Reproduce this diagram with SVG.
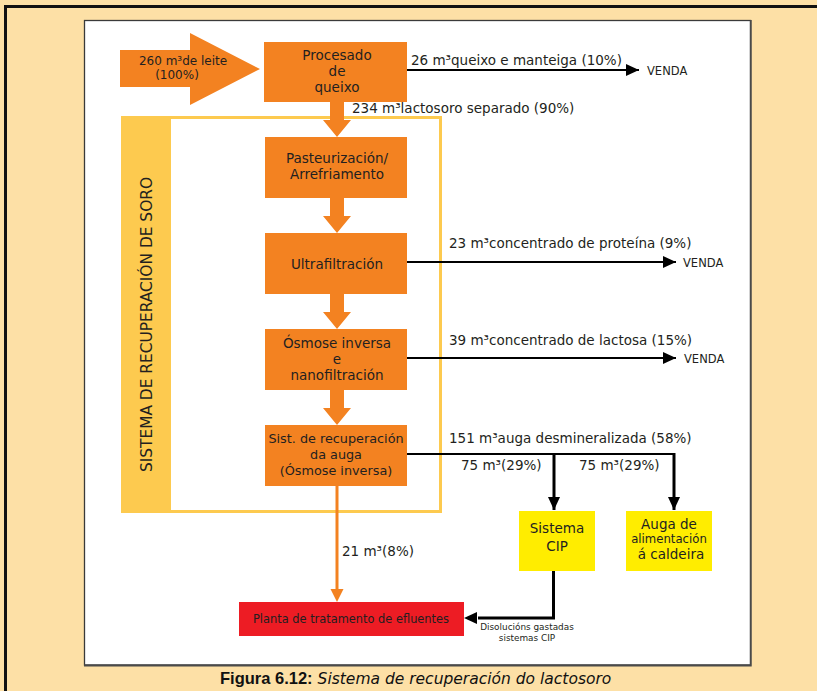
<svg xmlns="http://www.w3.org/2000/svg" width="817" height="691" viewBox="0 0 817 691">
  <style>
    .t { font-family: "DejaVu Sans", "Open Sans", sans-serif; fill: #231f20; }
    .box { fill: #f38221; }
    .ybox { fill: #ffed00; }
    .lbl { font-size: 13.5px; }
    .box-t { font-size: 13.5px; text-anchor: middle; }
    .venda { font-size: 11.5px; }
    .line { stroke: #000; stroke-width: 2; fill: none; }
    .thick { stroke: #000; stroke-width: 3; fill: none; }
    .fat { fill: #f38221; }
  </style>
  <defs>
    <marker id="ah" viewBox="0 0 13 12" refX="13" refY="6" markerWidth="13" markerHeight="12" markerUnits="userSpaceOnUse" orient="auto">
      <path d="M0,0 L13,6 L0,12 Z" fill="#000"/>
    </marker>
    <marker id="ahv" viewBox="0 0 12 13" refX="6" refY="13" markerWidth="12" markerHeight="13" markerUnits="userSpaceOnUse" orient="0">
      <path d="M0,0 L12,0 L6,13 Z" fill="#000"/>
    </marker>
  </defs>

  <!-- page background and frame -->
  <rect x="0" y="0" width="817" height="691" fill="#fde0a6"/>
  <path d="M5.5,691 V6.5 H817" fill="none" stroke="#111" stroke-width="3"/>
  <rect x="84.5" y="20.5" width="666" height="644.5" fill="#fff" stroke="#3a3a3a" stroke-width="1.3"/>
  <path d="M750.8,20 V665.5 H84" fill="none" stroke="#4a4a4a" stroke-width="1.8"/>

  <!-- whey recovery system frame -->
  <g id="recovery-system">
    <rect x="122.5" y="117.5" width="318" height="394" fill="none" stroke="#fdca4f" stroke-width="3"/>
    <rect x="121" y="116" width="50" height="397" fill="#fdca4f"/>
    <text class="t" font-size="15.4" transform="translate(152,324.5) rotate(-90)" text-anchor="middle">SISTEMA DE RECUPERACIÓN DE SORO</text>
  </g>

  <!-- connectors -->
  <g id="connectors">
    <!-- fat orange flow arrows -->
    <path class="fat" d="M330,102 H344 V120 H351 L337,137 L323,120 H330 Z"/>
    <path class="fat" d="M330,198 H344 V216 H351 L337,233 L323,216 H330 Z"/>
    <path class="fat" d="M330,294 H344 V312 H351 L337,329 L323,312 H330 Z"/>
    <path class="fat" d="M330,390 H344 V408 H351 L337,425 L323,408 H330 Z"/>
    <!-- effluent line -->
    <line x1="337" y1="486" x2="337" y2="590" stroke="#f38221" stroke-width="3"/>
    <path d="M330.5,589 H343.5 L337,602 Z" fill="#f38221"/>
    <!-- outputs to sale -->
    <line class="line" x1="407" y1="70" x2="639" y2="70" marker-end="url(#ah)"/>
    <line class="line" x1="407" y1="262" x2="676" y2="262" marker-end="url(#ah)"/>
    <line class="line" x1="407" y1="358" x2="676" y2="358" marker-end="url(#ah)"/>
    <!-- demineralised water split -->
    <polyline class="line" points="407,454 674,454"/>
    <line class="thick" x1="554" y1="453" x2="554" y2="510" marker-end="url(#ahv)"/>
    <line class="thick" x1="674" y1="453" x2="674" y2="510" marker-end="url(#ahv)"/>
    <!-- spent CIP solutions -->
    <polyline class="thick" points="553.5,571 553.5,618 478,618"/>
    <path d="M464,618 L477,612 L477,624 Z" fill="#000"/>
  </g>

  <!-- connector labels -->
  <g id="labels" class="t">
    <text class="lbl" x="411" y="65">26 m³queixo e manteiga (10%)</text>
    <text class="venda" x="647" y="75">VENDA</text>
    <text class="lbl" x="352" y="113">234 m³lactosoro separado (90%)</text>
    <text class="lbl" x="449" y="248">23 m³concentrado de proteína (9%)</text>
    <text class="venda" x="683" y="267">VENDA</text>
    <text class="lbl" x="449" y="345">39 m³concentrado de lactosa (15%)</text>
    <text class="venda" x="684" y="363">VENDA</text>
    <text class="lbl" x="449" y="443">151 m³auga desmineralizada (58%)</text>
    <text class="lbl" x="461" y="470">75 m³(29%)</text>
    <text class="lbl" x="579" y="470">75 m³(29%)</text>
    <text class="lbl" x="342" y="556">21 m³(8%)</text>
    <text font-size="8.9" x="527" y="630" text-anchor="middle">Disolucións gastadas</text>
    <text font-size="8.9" x="527" y="641" text-anchor="middle">sistemas CIP</text>
  </g>

  <!-- nodes -->
  <g id="milk-input">
    <path class="box" d="M120,50 H190 V33 L260,69 L190,105 V87 H120 Z"/>
    <text class="t" font-size="12" x="183" y="65" text-anchor="middle">260 m³de leite</text>
    <text class="t" font-size="12" x="177" y="79" text-anchor="middle">(100%)</text>
  </g>

  <g id="cheese-processing">
    <rect class="box" x="264" y="42" width="143" height="60"/>
    <text class="t box-t" x="337" y="60">Procesado</text>
    <text class="t box-t" x="337" y="76">de</text>
    <text class="t box-t" x="337" y="92">queixo</text>
  </g>

  <g id="pasteurization">
    <rect class="box" x="265" y="137" width="142" height="61"/>
    <text class="t box-t" x="337" y="162.5">Pasteurización/</text>
    <text class="t box-t" x="337" y="178.5">Arrefriamento</text>
  </g>

  <g id="ultrafiltration">
    <rect class="box" x="265" y="233" width="142" height="61"/>
    <text class="t box-t" x="337" y="269">Ultrafiltración</text>
  </g>

  <g id="reverse-osmosis">
    <rect class="box" x="265" y="329" width="142" height="61"/>
    <text class="t box-t" x="337" y="348">Ósmose inversa</text>
    <text class="t box-t" x="337" y="364">e</text>
    <text class="t box-t" x="337" y="380">nanofiltración</text>
  </g>

  <g id="water-recovery">
    <rect class="box" x="265" y="425" width="142" height="61"/>
    <text class="t" font-size="12.8" text-anchor="middle" x="336" y="443">Sist. de recuperación</text>
    <text class="t" font-size="12.8" text-anchor="middle" x="336" y="459">da auga</text>
    <text class="t" font-size="12.8" text-anchor="middle" x="336" y="475">(Ósmose inversa)</text>
  </g>

  <g id="cip-system">
    <rect class="ybox" x="519" y="511" width="76" height="60"/>
    <text class="t box-t" x="557" y="533">Sistema</text>
    <text class="t box-t" x="557" y="551">CIP</text>
  </g>

  <g id="boiler-water">
    <rect class="ybox" x="626" y="511" width="86" height="60"/>
    <text class="t box-t" x="669" y="528.5">Auga de</text>
    <text class="t" font-size="11.7" x="669" y="543" text-anchor="middle">alimentación</text>
    <text class="t box-t" x="671" y="558.5">á caldeira</text>
  </g>

  <g id="effluent-plant">
    <rect x="239" y="602" width="225" height="34" fill="#ed1c24"/>
    <text class="t" font-size="11.4" x="351" y="623" text-anchor="middle">Planta de tratamento de efluentes</text>
  </g>

  <!-- caption -->
  <text x="220" y="684" fill="#111"><tspan font-family="Liberation Sans, Arial, sans-serif" font-weight="bold" font-size="16.5">Figura 6.12:</tspan><tspan font-family="DejaVu Sans, sans-serif" font-style="italic" font-size="15.5"> Sistema de recuperación do lactosoro</tspan></text>
</svg>
